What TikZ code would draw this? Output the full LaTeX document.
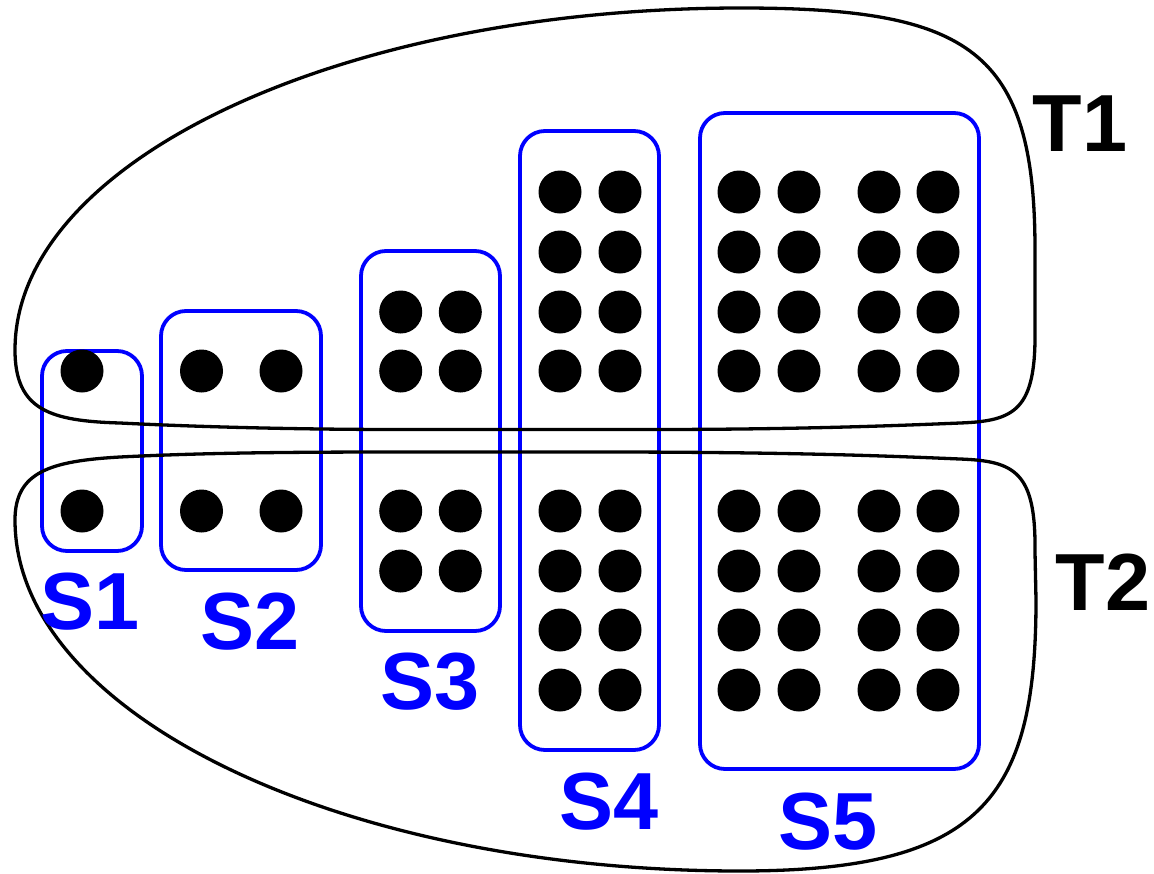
\documentclass[tikz,border=0pt]{standalone}
\usepackage{fontspec}
\setmainfont{Liberation Sans}
\definecolor{sblue}{RGB}{0,0,255}
\tikzset{
  blob/.style={draw=black, line width=3.3pt, line join=round},
  sbox/.style={draw=sblue, line width=3.8pt, rounded corners=25pt, inner sep=0pt, outer sep=0pt},
  dot/.style={circle, fill=black, minimum size=43pt, inner sep=0pt},
  slabel/.style={text=sblue, font=\fontsize{81}{81}\selectfont\bfseries, inner sep=0pt},
  tlabel/.style={text=black, font=\fontsize{81}{81}\selectfont\bfseries, inner sep=0pt}
}
\begin{document}
\begin{tikzpicture}[x=1pt,y=-1pt]
\useasboundingbox (0,0) rectangle (1154,873);
% S boxes
\node[sbox, minimum width=100pt, minimum height=200pt] (S1) at (92,451) {};
\node[sbox, minimum width=160pt, minimum height=259pt] (S2) at (241,440.5) {};
\node[sbox, minimum width=139pt, minimum height=380pt] (S3) at (430.5,441) {};
\node[sbox, minimum width=139pt, minimum height=619pt] (S4) at (589.5,440.5) {};
\node[sbox, minimum width=279pt, minimum height=656pt] (S5) at (839.5,441) {};
% T1 blob
\draw[blob] (15,350) .. controls (15,161) and (340,8) .. (741,8)
  .. controls (970,8) and (1035,50) .. (1035,250)
  -- (1035,330)
  .. controls (1036,410) and (1015,421) .. (960,423)
  .. controls (900,425.5) and (800,429.5) .. (650,429.5)
  -- (400,429.5)
  .. controls (300,429.5) and (200,427) .. (120,423)
  .. controls (50,421) and (15,410) .. (15,350) -- cycle;
% T2 blob
\draw[blob] (15,520) .. controls (15,472) and (50,461) .. (120,457)
  .. controls (200,453) and (280,452) .. (400,452)
  -- (600,452)
  .. controls (800,452) and (900,456.5) .. (960,459)
  .. controls (1015,461) and (1036,472) .. (1035,552)
  -- (1036,600)
  .. controls (1036,800) and (980,871) .. (740,871)
  .. controls (340,871) and (15,714) .. (15,520) -- cycle;
% dots
\foreach \y [count=\i] in {371,511} {
  \node[dot] (a\i) at (82,\y) {};
  \node[dot] (b\i) at (201.5,\y) {};
  \node[dot] (c\i) at (281,\y) {};
}
\foreach \y [count=\i] in {312,371,511,571} {
  \node[dot] (d\i) at (400.7,\y) {};
  \node[dot] (e\i) at (460.3,\y) {};
}
\foreach \y [count=\i] in {192,252,312,371,511,571,630,690} {
  \node[dot] (f\i) at (560,\y) {};
  \node[dot] (g\i) at (620,\y) {};
  \node[dot] (h\i) at (739,\y) {};
  \node[dot] (k\i) at (799,\y) {};
  \node[dot] (m\i) at (879,\y) {};
  \node[dot] (n\i) at (938,\y) {};
}
% labels
\node[slabel] (L1) at (90,602) {S1};
\node[slabel] (L2) at (250,622) {S2};
\node[slabel] (L3) at (430,682) {S3};
\node[slabel] (L4) at (609,802) {S4};
\node[slabel] (L5) at (828,822) {S5};
\node[tlabel] (T1) at (1080,124) {T1};
\node[tlabel] (T2) at (1103,582) {T2};
\end{tikzpicture}
\end{document}
